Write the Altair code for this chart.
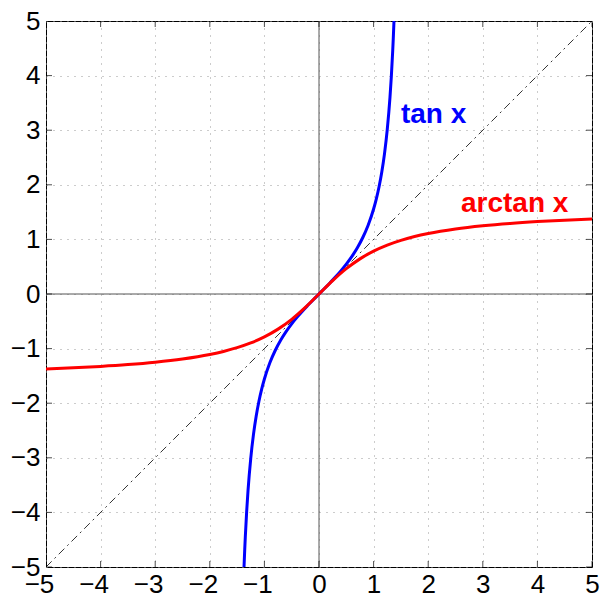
import altair as alt
import pandas as pd

tan_x = [-1.3734, -1.36, -1.35, -1.325, -1.3, -1.25, -1.2, -1.15, -1.1, -1.05, -1.0,
         -0.9, -0.8, -0.7, -0.6, -0.5, -0.4, -0.3, -0.2, -0.1, 0.0,
         0.1, 0.2, 0.3, 0.4, 0.5, 0.6, 0.7, 0.8, 0.9,
         1.0, 1.05, 1.1, 1.15, 1.2, 1.25, 1.3, 1.325, 1.35, 1.36, 1.3734]
tan_y = [-5.0, -4.673, -4.455, -3.986, -3.602, -3.010, -2.572, -2.235, -1.965, -1.743, -1.557,
         -1.260, -1.030, -0.842, -0.684, -0.546, -0.423, -0.309, -0.203, -0.100, 0.0,
         0.100, 0.203, 0.309, 0.423, 0.546, 0.684, 0.842, 1.030, 1.260,
         1.557, 1.743, 1.965, 2.235, 2.572, 3.010, 3.602, 3.986, 4.455, 4.673, 5.0]

atan_x = [-5.0, -4.5, -4.0, -3.5, -3.0, -2.5, -2.0, -1.75, -1.5, -1.25, -1.0, -0.75, -0.5, -0.25, 0.0,
          0.25, 0.5, 0.75, 1.0, 1.25, 1.5, 1.75, 2.0, 2.5, 3.0, 3.5, 4.0, 4.5, 5.0]
atan_y = [-1.3734, -1.3521, -1.3258, -1.2925, -1.2490, -1.1903, -1.1071, -1.0517, -0.9828, -0.8961,
          -0.7854, -0.6435, -0.4636, -0.2450, 0.0,
          0.2450, 0.4636, 0.6435, 0.7854, 0.8961, 0.9828, 1.0517, 1.1071, 1.1903, 1.2490,
          1.2925, 1.3258, 1.3521, 1.3734]

diag_x = [-5, 5]
diag_y = [-5, 5]

ticks = [-5, -4, -3, -2, -1, 0, 1, 2, 3, 4, 5]

labels_text = ["tan x", "arctan x"]
labels_x = [1.5, 2.6]
labels_y = [3.13, 1.51]
labels_color = ["#0000ff", "#ff0000"]

FONT = "Liberation Sans"
FS = 26

xs = alt.Scale(domain=[-5, 5], nice=False, zero=False)
ys = alt.Scale(domain=[-5, 5], nice=False, zero=False)

xaxis = alt.Axis(values=ticks, grid=True, gridDash=[1, 6], gridColor="#999999", gridWidth=1,
                 gridOpacity=1, domain=False, ticks=False, labelFont=FONT, labelFontSize=FS,
                 labelColor="black", labelPadding=4, title=None,
                 labelOffset={"condition": {"test": "datum.value < 0", "value": -7}, "value": 0},
                 labelFlush=False, labelOverlap=False)
yaxis = alt.Axis(values=ticks, grid=True, gridDash=[1, 6], gridColor="#999999", gridWidth=1,
                 gridOpacity=1, domain=False, ticks=False, labelFont=FONT, labelFontSize=FS,
                 labelColor="black", labelPadding=6, title=None,
                 labelFlush=False, labelOverlap=False)

tick_df = pd.DataFrame({"t": ticks})

base_axes = alt.Chart(tick_df).mark_point(opacity=0).encode(
    x=alt.X("t:Q", scale=xs, axis=xaxis),
    y=alt.Y("t:Q", scale=ys, axis=yaxis),
)

# inward ticks
tick_bottom = alt.Chart(tick_df).mark_tick(color="black", size=12, thickness=1, clip=True, orient="vertical").encode(
    x=alt.X("t:Q", scale=xs), y=alt.datum(-5, scale=ys))
tick_top = alt.Chart(tick_df).mark_tick(color="black", size=12, thickness=1, clip=True, orient="vertical").encode(
    x=alt.X("t:Q", scale=xs), y=alt.datum(5, scale=ys))
tick_left = alt.Chart(tick_df).mark_tick(color="black", size=12, thickness=1, clip=True, orient="horizontal").encode(
    y=alt.Y("t:Q", scale=ys), x=alt.datum(-5, scale=xs))
tick_right = alt.Chart(tick_df).mark_tick(color="black", size=12, thickness=1, clip=True, orient="horizontal").encode(
    y=alt.Y("t:Q", scale=ys), x=alt.datum(5, scale=xs))

zero_v = alt.Chart(pd.DataFrame({"v": [0]})).mark_rule(color="#555555", strokeWidth=1).encode(
    x=alt.X("v:Q", scale=xs))
zero_h = alt.Chart(pd.DataFrame({"v": [0]})).mark_rule(color="#555555", strokeWidth=1).encode(
    y=alt.Y("v:Q", scale=ys))

diag = alt.Chart(pd.DataFrame({"x": diag_x, "y": diag_y})).mark_line(
    color="black", strokeWidth=0.8, strokeDash=[8, 4, 2, 4]).encode(
    x=alt.X("x:Q", scale=xs), y=alt.Y("y:Q", scale=ys))

tan_line = alt.Chart(pd.DataFrame({"x": tan_x, "y": tan_y})).mark_line(
    color="#0000ff", strokeWidth=3, interpolate="monotone", clip=True).encode(
    x=alt.X("x:Q", scale=xs), y=alt.Y("y:Q", scale=ys), order="x:Q")

atan_line = alt.Chart(pd.DataFrame({"x": atan_x, "y": atan_y})).mark_line(
    color="#ff0000", strokeWidth=3, interpolate="monotone", clip=True).encode(
    x=alt.X("x:Q", scale=xs), y=alt.Y("y:Q", scale=ys), order="x:Q")

lab = alt.Chart(pd.DataFrame({"text": labels_text, "x": labels_x, "y": labels_y, "c": labels_color})).mark_text(
    font=FONT, fontSize=28, fontWeight="bold", align="left", baseline="alphabetic").encode(
    x=alt.X("x:Q", scale=xs), y=alt.Y("y:Q", scale=ys), text="text:N",
    color=alt.Color("c:N", scale=None))

chart = alt.layer(base_axes, zero_v, zero_h, diag, tan_line, atan_line,
                  tick_bottom, tick_top, tick_left, tick_right, lab).properties(
    width=546, height=546,
    autosize=alt.AutoSizeParams(type="none"),
    padding={"left": 46, "top": 21, "right": 8, "bottom": 32},
    background="white",
).configure_view(stroke="black", strokeWidth=1)

chart.save("out.html", embed_options={"renderer": "svg", "actions": False})
